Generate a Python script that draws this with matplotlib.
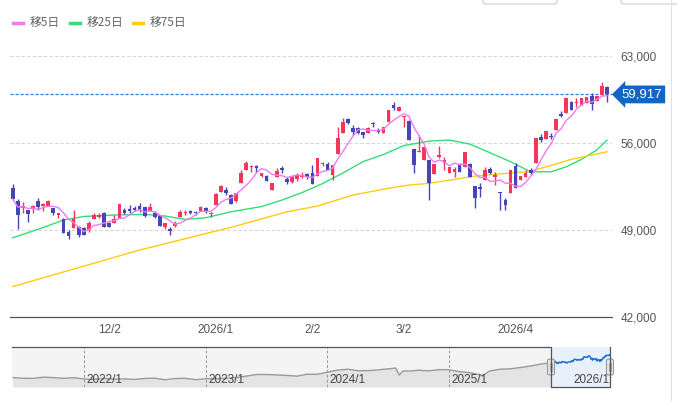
import matplotlib.pyplot as plt
import matplotlib.patches as mpatches
from matplotlib.lines import Line2D
import numpy as np
import pandas as pd

# daily candles
opens = [52380, 51330, 50770, 50610, 50690, 51330, 50930, 50930, 50770, 50250,
         49890, 48840, 49160, 49240, 49160, 49000, 49890, 50050, 50370, 49560,
         49560, 49970, 50610, 50690, 50770, 50930, 50850, 50530, 50370, 50130,
         49240, 49080, 49320, 50050, 50370, 50530, 50450, 50530, 50770, 50290,
         51010, 52060, 52220, 51820, 51330, 52780, 53830, 54070, 54150, 53350,
         53350, 52220, 53260, 53990, 53100, 52860, 53100, 53260, 53510, 53590,
         53350, 54310, 54310, 53430, 55120, 56800, 57930, 57210, 57210, 56890,
         56800, 57610, 57050, 56800, 57690, 59060, 58580, 58090, 57770, 55520,
         55280, 54630, 54630, 53510, 54870, 54390, 53590, 53670, 54310, 54070,
         54310, 52540, 52460, 53020, 53910, 53260, 52060, 51410, 51980, 54150,
         53020, 53260, 53830, 54390, 56480, 56320, 56560, 57050, 58330, 58410,
         59300, 59220, 59060, 59220, 59780, 59380, 59860, 60510]
highs = [52700, 51500, 51250, 50610, 51010, 51580, 51170, 51410, 50770, 50370,
         49970, 49000, 50610, 49320, 49240, 49720, 50370, 50370, 50450, 49640,
         50210, 51090, 50770, 51010, 50930, 51170, 50850, 51170, 50530, 50130,
         49560, 49240, 49720, 50610, 50610, 50610, 50530, 50930, 50850, 50450,
         51980, 52620, 52460, 51900, 51980, 53830, 54550, 54230, 54230, 53590,
         53430, 52780, 53990, 54150, 53260, 53430, 53590, 53670, 53590, 54230,
         54790, 54470, 54470, 54230, 57290, 58010, 58010, 57450, 57290, 56890,
         57290, 57690, 57210, 57290, 58660, 59300, 58980, 58170, 57850, 55520,
         56640, 55680, 54630, 54310, 55760, 54870, 54070, 54070, 54390, 55280,
         54390, 52540, 52780, 54070, 54070, 53670, 52060, 51580, 53830, 54390,
         53350, 53830, 53990, 56400, 56720, 56970, 56800, 57930, 58580, 59620,
         59380, 59620, 59620, 59700, 60020, 59780, 60910, 60590]
lows = [51500, 49080, 50370, 49640, 50370, 50610, 50530, 50930, 50210, 49970,
        48760, 48280, 49160, 48440, 48600, 48840, 49890, 49970, 49240, 49240,
        49560, 49970, 50290, 50370, 50530, 50450, 50050, 50530, 49970, 49320,
        49080, 48600, 49240, 50050, 50210, 50290, 50210, 50530, 50370, 50050,
        51010, 52060, 51820, 51090, 51250, 52780, 53830, 53670, 53670, 53260,
        52940, 52220, 53260, 53590, 52700, 52780, 52940, 53180, 53100, 52700,
        53350, 54150, 53830, 53020, 55120, 56800, 57530, 56640, 56720, 56400,
        56800, 57290, 56800, 56800, 57690, 58660, 58580, 57290, 56240, 53590,
        55280, 54630, 51410, 53510, 54790, 53830, 53590, 53260, 53670, 54070,
        53260, 50770, 51660, 53020, 53510, 52620, 50610, 50610, 51980, 52380,
        53020, 53260, 53430, 54390, 56080, 56320, 56320, 57050, 58090, 58410,
        58660, 58900, 59060, 59220, 58660, 59380, 59860, 59300]
closes = [51500, 50210, 50930, 50290, 50930, 50850, 51090, 51330, 50370, 50370,
          48760, 48520, 49890, 48600, 48600, 49560, 50210, 50210, 49240, 49240,
          49890, 51090, 50370, 50530, 50610, 50610, 50130, 50850, 50050, 49320,
          49560, 48920, 49560, 50450, 50450, 50370, 50370, 50850, 50530, 50370,
          51900, 52540, 51980, 51090, 51980, 53590, 54390, 54150, 53990, 53590,
          52940, 52780, 53750, 53830, 52860, 53350, 53430, 53430, 53260, 52700,
          54790, 54390, 53830, 54230, 56400, 57690, 57610, 56890, 56800, 56640,
          57210, 57530, 56890, 57290, 58660, 58820, 58900, 58170, 56240, 54230,
          55360, 55680, 52780, 54310, 55040, 54630, 54070, 53910, 53670, 55280,
          53260, 51580, 52300, 53830, 53590, 53430, 51980, 51010, 53830, 52380,
          53350, 53590, 53590, 56400, 56240, 56970, 56480, 57930, 58170, 59620,
          58660, 59300, 59620, 59700, 59140, 59780, 60590, 59917]

# 25 / 75 day averages at a few candles
ma25_idx = [0, 6, 10, 14, 20, 26, 30, 34, 38, 43, 49, 53, 57, 61, 65, 69, 73,
            77, 82, 86, 90, 94, 98, 102, 106, 109, 112, 115, 117]
ma25_val = [48380, 49200, 49805, 50090, 50210, 50260, 50130, 49860, 49990, 50470,
            50890, 51410, 52020, 52740, 53590, 54510, 55080, 55800, 56160, 56240,
            55920, 55220, 54500, 53690, 53690, 54090, 54690, 55440, 56240]
ma75_idx = [0, 25, 43, 47, 54, 60, 67, 74, 78, 82, 86, 91, 97, 101, 104, 110, 117]
ma75_val = [44450, 47390, 49220, 49670, 50470, 50930, 51820, 52360, 52620, 52760,
            53020, 53340, 53560, 53690, 53960, 54690, 55300]

date_idx = [19, 40, 59, 77, 99]
date_labels = ["12/2", "2026/1", "2/2", "3/2", "2026/4"]
yticks = [42000, 49000, 56000, 63000]
last_price = 59917

# navigator (long history, monthly)
nav_years = [2021.42, 2021.50, 2021.58, 2021.67, 2021.75, 2021.83, 2021.92,
             2022.00, 2022.08, 2022.17, 2022.25, 2022.33, 2022.42, 2022.50, 2022.58,
             2022.67, 2022.75, 2022.83, 2022.92, 2023.00, 2023.08, 2023.17, 2023.25,
             2023.33, 2023.42, 2023.50, 2023.58, 2023.67, 2023.75, 2023.83, 2023.92,
             2024.00, 2024.08, 2024.17, 2024.25, 2024.33, 2024.42, 2024.50, 2024.56,
             2024.59, 2024.62, 2024.67, 2024.75, 2024.83, 2024.92, 2025.00, 2025.08,
             2025.17, 2025.25, 2025.27, 2025.33, 2025.42, 2025.50, 2025.58, 2025.67,
             2025.75, 2025.84]
nav_vals = [28900, 28000, 27800, 29500, 28900, 28000, 28800,
            27000, 26500, 27800, 26800, 27200, 26400, 27800, 28100,
            26000, 27600, 28000, 26100, 27300, 27400, 28000, 28900,
            30900, 33200, 33200, 32600, 31900, 30900, 33500, 33500,
            36300, 39200, 40400, 38400, 38500, 39600, 41000, 42000,
            32500, 38000, 37900, 39100, 38200, 39900, 39600, 37200,
            35600, 33000, 31100, 37900, 40500, 41000, 42700, 44900,
            47500, 49500]
nav_year_labels = ["2022/1", "2023/1", "2024/1", "2025/1", "2026/1"]
nav_year_pos = [2022.0, 2023.0, 2024.0, 2025.0, 2026.0]

UP = "#f5365c"
DOWN = "#4545b8"
C5 = "#ee7cee"
C25 = "#33dd77"
C75 = "#ffcc11"
NUMFONT = "Liberation Sans"

W, H = 677, 401
fig = plt.figure(figsize=(W / 100, H / 100), dpi=100)

def fx(px):
    return px / W

def fy(py):
    return 1 - py / H

# main chart
ax = fig.add_axes([fx(10), fy(317), fx(612 - 10), (317 - 35) / H])
n = len(closes)
x = np.arange(n)
o = np.array(opens); c = np.array(closes)
up = c >= o
cols = np.where(up, UP, DOWN)
ax.vlines(x, lows, highs, colors=cols, lw=1.0, zorder=3)
body_lo = np.minimum(o, c)
body_h = np.maximum(np.abs(c - o), 90)
ax.bar(x, body_h, bottom=body_lo, width=0.72, color=cols, zorder=4)

ma5 = pd.Series(closes).rolling(5, min_periods=1).mean()
ax.plot(x, ma5, color=C5, lw=1.0, zorder=5)
ax.plot(ma25_idx, ma25_val, color=C25, lw=1.0, zorder=2)
ax.plot(ma75_idx, ma75_val, color=C75, lw=1.0, zorder=2)

ax.axhline(last_price, color="#2a7fe0", lw=0.9, ls=(0, (2.5, 1.5)), zorder=1)

ax.set_xlim(-0.53, 118.0)
ax.set_ylim(42000, 64700)
ax.set_yticks(yticks)
ax.yaxis.grid(True, color="#d6d6d6", ls=(0, (3, 2)), lw=0.8)
ax.set_axisbelow(True)
ax.yaxis.tick_right()
ax.tick_params(axis="y", length=0, pad=6, labelsize=8.5, labelcolor="#555555")
ax.set_yticklabels([f"{v:,}" for v in yticks], fontfamily=NUMFONT)
ax.set_xticks(date_idx)
ax.set_xticklabels(date_labels, fontfamily=NUMFONT)
ax.tick_params(axis="x", length=0, pad=5, labelsize=8.5, labelcolor="#555555")
for s in ["left", "top", "right"]:
    ax.spines[s].set_visible(False)
ax.spines["bottom"].set_color("#555555")
ax.spines["bottom"].set_linewidth(0.9)

ax.text(1.016, last_price, f"{last_price:,}", transform=ax.get_yaxis_transform(),
        ha="left", va="center", color="white", fontsize=9.5, fontfamily=NUMFONT,
        bbox=dict(boxstyle="larrow,pad=0.22", fc="#1266c4", ec="none"))

# legend
leg = [("移5日", C5, 13, 30), ("移25日", C25, 70, 87), ("移75日", C75, 133, 150)]
for lab, col, lx, tx in leg:
    fig.add_artist(Line2D([fx(lx), fx(lx + 10)], [fy(22.5), fy(22.5)], color=col, lw=2.5))
    fig.text(fx(tx), fy(22.5), lab, ha="left", va="center", fontsize=8.5, color="#666666",
             family=["Noto Sans CJK JP", "DejaVu Sans"])

# navigator
nav = fig.add_axes([fx(12), fy(387), fx(610 - 12), 40 / H])
sel0, sel1 = 2025.84, 2026.32
nav.set_xlim(2021.41, sel1)
nav.set_ylim(16000, 71000)
nav.set_facecolor("#f4f4f4")
nav.fill_between(nav_years, nav_vals, 16000, color="#e4e4e4", lw=0)
nav.plot(nav_years, nav_vals, color="#9a9a9a", lw=1.0)
nav.axvspan(sel0, sel1, color="#e8f1fb", lw=0, zorder=2)
sel_t = np.linspace(sel0, sel1, n)
nav.plot(sel_t, closes, color="#1a6fd0", lw=1.0, zorder=3)
for yr, lab in zip(nav_year_pos, nav_year_labels):
    nav.axvline(yr, color="#999999", lw=0.7, ls=(0, (3, 2)), zorder=1)
    nav.text(yr + 0.02, 17500, lab, ha="left", va="bottom", fontsize=8.5,
             color="#444444", fontfamily=NUMFONT, zorder=4)
for s in nav.spines.values():
    s.set_visible(False)
nav.set_xticks([]); nav.set_yticks([])
# outline of navigator
fig.add_artist(Line2D([fx(12), fx(551), fx(551), fx(610), fx(610)],
                      [fy(347), fy(347), fy(387), fy(387), fy(347)], color="#555555", lw=0.9))
for hx in (551, 610):
    fig.add_artist(mpatches.FancyBboxPatch((fx(hx - 3.5), fy(375)), fx(7), 16 / H,
                   boxstyle="round,pad=0,rounding_size=0.004", fc="#e6e6e6", ec="#999999", lw=0.8))
    fig.add_artist(Line2D([fx(hx - 1), fx(hx - 1)], [fy(363), fy(371)], color="#999999", lw=0.6))
    fig.add_artist(Line2D([fx(hx + 1), fx(hx + 1)], [fy(363), fy(371)], color="#999999", lw=0.6))

# top-right UI remnants
for bx0, bx1 in ((483, 557), (621, 690)):
    fig.add_artist(mpatches.FancyBboxPatch((fx(bx0), fy(4)), fx(bx1 - bx0), 14 / H,
                   boxstyle="round,pad=0,rounding_size=0.006", fc="white", ec="#cccccc", lw=0.8))
fig.add_artist(Line2D([fx(671), fx(671)], [0, 1], color="#e2e2e2", lw=0.8))

fig.savefig("out.png", dpi=100)
